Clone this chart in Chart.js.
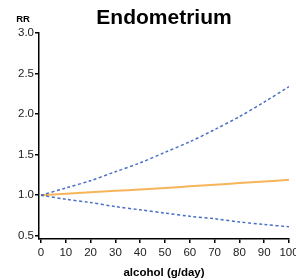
<!DOCTYPE html>
<html>
<head>
<meta charset="utf-8">
<script src="https://cdn.jsdelivr.net/npm/chart.js@4"></script>
<style>
  html, body { margin: 0; padding: 0; background: #fff; }
  #wrap { width: 296px; height: 280px; }
</style>
</head>
<body>
<div id="wrap"><canvas id="c" width="296" height="280"></canvas></div>
<script>
// dose-response
const doses = [0, 10, 20, 30, 40, 50, 60, 70, 80, 90, 100];
const rr    = [1.0, 1.018, 1.036, 1.054, 1.072, 1.09, 1.11, 1.13, 1.15, 1.17, 1.19];
const upper = [1.0, 1.09, 1.18, 1.29, 1.40, 1.53, 1.66, 1.81, 1.97, 2.15, 2.34];
const lower = [1.0, 0.95, 0.91, 0.86, 0.82, 0.78, 0.74, 0.71, 0.67, 0.64, 0.61];
const xTicks = [0, 10, 20, 30, 40, 50, 60, 70, 80, 90, 100];
const yTicks = [0.5, 1.0, 1.5, 2.0, 2.5, 3.0];

const FONT = 'Liberation Sans, Arial, Helvetica, sans-serif';
const pts = arr => doses.map((d, i) => ({ x: d, y: arr[i] }));

function ciDS(data){
  return {
    data, borderColor: '#4a6fc6', borderWidth: 1.5,
    borderDash: [3, 2.5], pointRadius: 0, tension: 0.3, fill: false
  };
}

// small "RR" label above the y axis
const rrLabel = {
  id: 'rrLabel',
  afterDraw(chart){
    const ctx = chart.ctx;
    ctx.save();
    ctx.font = 'bold 9.5px ' + FONT;
    ctx.fillStyle = '#000';
    ctx.textAlign = 'center';
    ctx.textBaseline = 'middle';
    ctx.fillText('RR', 23, 19);
    ctx.restore();
  }
};

new Chart(document.getElementById('c'), {
  type: 'line',
  data: {
    datasets: [
      ciDS(pts(upper)),
      ciDS(pts(lower)),
      { data: pts(rr), borderColor: '#f7b55a', borderWidth: 2, pointRadius: 0, tension: 0.3, fill: false }
    ]
  },
  options: {
    responsive: false,
    animation: false,
    layout: { padding: { left: 0, right: 7, top: 0, bottom: 0 } },
    plugins: {
      legend: { display: false },
      tooltip: { enabled: false },
      title: {
        display: true, text: 'Endometrium', fullSize: false,
        color: '#000', font: { family: FONT, size: 21, weight: 'bold' },
        padding: { top: 6, bottom: 2 }, align: 'center'
      }
    },
    scales: {
      x: {
        type: 'linear', min: -0.8, max: 100,
        afterBuildTicks: s => { s.ticks = xTicks.map(v => ({ value: v })); },
        afterFit: s => { s.paddingRight = 0; s.paddingLeft = 0; s.height = 41; },
        border: { display: true, color: '#000', width: 1.5 },
        grid: { display: true, drawOnChartArea: false, drawTicks: true, tickLength: 4, color: '#000', lineWidth: 1.5 },
        ticks: { color: '#222', font: { family: FONT, size: 11.5 }, padding: 3, maxRotation: 0, autoSkip: false },
        title: { display: true, text: 'alcohol (g/day)', color: '#000', font: { family: FONT, size: 11.5, weight: 'bold' }, padding: { top: 8, bottom: 0 } }
      },
      y: {
        type: 'linear', min: 0.46, max: 3.0,
        afterBuildTicks: s => { s.ticks = yTicks.map(v => ({ value: v })); },
        afterFit: s => { s.width = 39; },
        border: { display: true, color: '#000', width: 1.5 },
        grid: { display: true, drawOnChartArea: false, drawTicks: true, tickLength: 4, color: '#000', lineWidth: 1.5 },
        ticks: { color: '#222', font: { family: FONT, size: 11.5 }, padding: 1, callback: v => v.toFixed(1) }
      }
    }
  },
  plugins: [rrLabel]
});
</script>
</body>
</html>
